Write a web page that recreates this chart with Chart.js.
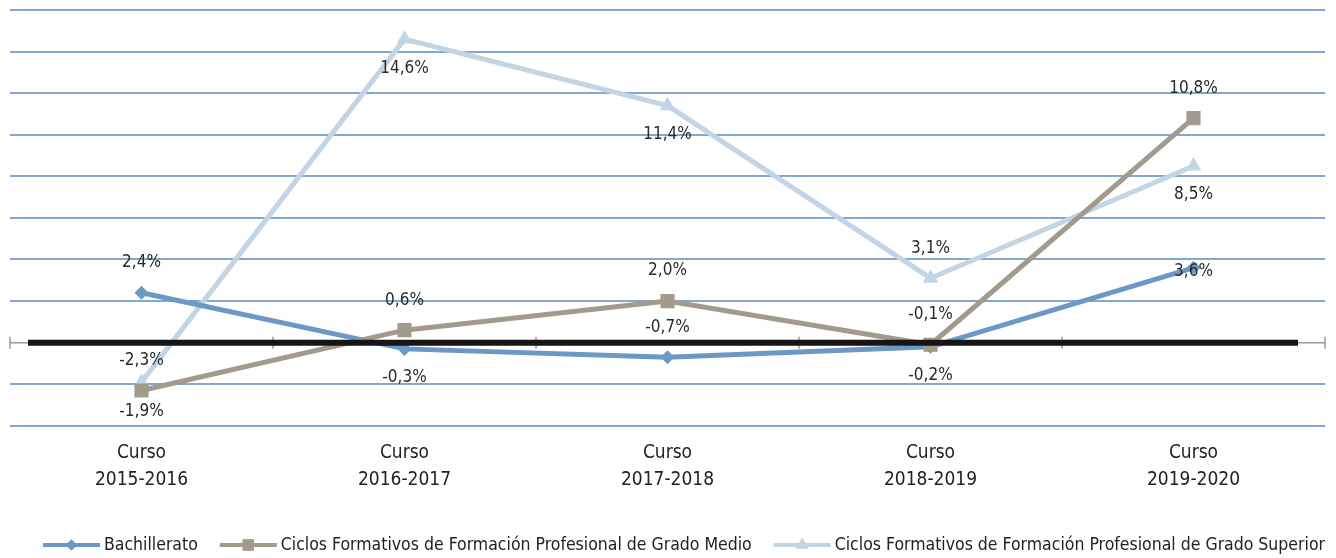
<!DOCTYPE html>
<html>
<head>
<meta charset="utf-8">
<script src="https://cdn.jsdelivr.net/npm/chart.js@4.4.1/dist/chart.umd.min.js"></script>
<style>
html,body{margin:0;padding:0;background:#fff;}
#wrap{position:relative;width:1336px;height:558px;}
</style>
</head>
<body>
<div id="wrap"><canvas id="c"></canvas></div>
<script>
// ---- data ----
const categories = [["Curso","2015-2016"],["Curso","2016-2017"],["Curso","2017-2018"],["Curso","2018-2019"],["Curso","2019-2020"]];
const seriesNames = ["Bachillerato","Ciclos Formativos de Formación Profesional de Grado Medio","Ciclos Formativos de Formación Profesional de Grado Superior"];
const bachillerato = [2.4, -0.3, -0.7, -0.2, 3.6];
const gradoMedio = [-2.3, 0.6, 2.0, -0.1, 10.8];
const gradoSuperior = [-1.9, 14.6, 11.4, 3.1, 8.5];
const yMin = -4, yMax = 16, yStep = 2;

// ---- styles ----
const FONT = '"DejaVu Sans Condensed","Liberation Sans Narrow",sans-serif';
const colors = ["#6b98c4", "#a39a8e", "#c3d4e4"];
const styles = ["rectRot", "rect", "triangle"];
const radii = [7, 10, 9];
const labelPos = [
  ["above","below","above","below","center"],
  ["above","above","above","above","above"],
  ["below","below","below","above","below"]
];

const zeroAxisPlugin = {
  id: 'zeroAxis',
  afterDatasetsDraw(chart) {
    const {ctx, chartArea, scales: {x, y}} = chart;
    const y0 = y.getPixelForValue(0);
    const n = x.ticks.length;
    const half = (x.getPixelForValue(1) - x.getPixelForValue(0)) / 2;
    ctx.save();
    ctx.strokeStyle = '#9a9a9a';
    ctx.lineWidth = 1.5;
    ctx.beginPath();
    ctx.moveTo(chartArea.left, y0); ctx.lineTo(chartArea.right, y0);
    for (let i = 0; i <= n; i++) {
      const px = x.getPixelForValue(0) - half + i * 2 * half;
      ctx.moveTo(px, y0 - 6); ctx.lineTo(px, y0 + 6);
    }
    ctx.stroke();
    ctx.strokeStyle = '#151515';
    ctx.lineWidth = 6;
    ctx.beginPath();
    ctx.moveTo(chartArea.left + 18, y0); ctx.lineTo(chartArea.right - 27, y0);
    ctx.stroke();
    ctx.restore();
  }
};

const labelPlugin = {
  id: 'valueLabels',
  afterDraw(chart) {
    const {ctx} = chart;
    ctx.save();
    ctx.font = '17px ' + FONT;
    ctx.fillStyle = '#2a2a2a';
    ctx.textAlign = 'center';
    ctx.textBaseline = 'middle';
    chart.data.datasets.forEach((ds, di) => {
      const meta = chart.getDatasetMeta(di);
      meta.data.forEach((pt, i) => {
        const v = ds.data[i];
        const txt = v.toFixed(1).replace('.', ',') + '%';
        const pos = labelPos[di][i];
        let yy = pt.y;
        if (pos === 'above') yy -= 30;
        else if (pos === 'below') yy += 29;
        else yy += 4;
        ctx.fillText(txt, pt.x, yy);
      });
    });
    ctx.restore();
  }
};

// custom one-row legend drawn on the canvas
const legendPlugin = {
  id: 'rowLegend',
  afterDraw(chart) {
    const {ctx} = chart;
    const yc = 545;
    let xx = 43;
    ctx.save();
    ctx.font = '17.5px ' + FONT;
    ctx.textBaseline = 'middle';
    ctx.textAlign = 'left';
    chart.data.datasets.forEach((ds, i) => {
      ctx.strokeStyle = colors[i];
      ctx.lineWidth = 4;
      ctx.beginPath(); ctx.moveTo(xx, yc); ctx.lineTo(xx + 57, yc); ctx.stroke();
      ctx.fillStyle = colors[i];
      Chart.helpers.drawPoint(ctx, {pointStyle: styles[i], radius: radii[i] * 0.8, rotation: 0, borderWidth: 0}, xx + 28.5, yc);
      ctx.fill();
      ctx.fillStyle = '#222';
      ctx.fillText(ds.label, xx + 61, yc);
      xx += 61 + ctx.measureText(ds.label).width + 22;
    });
    ctx.restore();
  }
};

const dataArrays = [bachillerato, gradoMedio, gradoSuperior];
const drawOrder = [2, 1, 3];
const datasets = dataArrays.map((d, i) => ({
  label: seriesNames[i],
  data: d,
  borderColor: colors[i],
  backgroundColor: colors[i],
  borderWidth: 5,
  pointStyle: styles[i],
  pointRadius: radii[i],
  pointHoverRadius: radii[i],
  pointBorderWidth: 0,
  tension: 0,
  order: drawOrder[i]
}));

Chart.defaults.font.family = FONT;

new Chart(document.getElementById('c'), {
  type: 'line',
  data: { labels: categories, datasets },
  options: {
    responsive: true,
    maintainAspectRatio: false,
    animation: false,
    layout: { padding: { top: 10, left: 9, right: 11, bottom: 51 } },
    scales: {
      x: {
        offset: true,
        grid: { display: false, drawTicks: false },
        border: { display: false },
        ticks: { color: '#222', font: { size: 19, lineHeight: 1.4 }, padding: 14, maxRotation: 0 }
      },
      y: {
        min: yMin, max: yMax,
        ticks: { display: false, stepSize: yStep },
        border: { display: false },
        grid: {
          drawTicks: false,
          lineWidth: 2,
          color: c => c.tick && c.tick.value === 0 ? 'rgba(0,0,0,0)' : '#80a8d2'
        }
      }
    },
    plugins: {
      tooltip: { enabled: false },
      legend: { display: false }
    }
  },
  plugins: [zeroAxisPlugin, labelPlugin, legendPlugin]
});
</script>
</body>
</html>
